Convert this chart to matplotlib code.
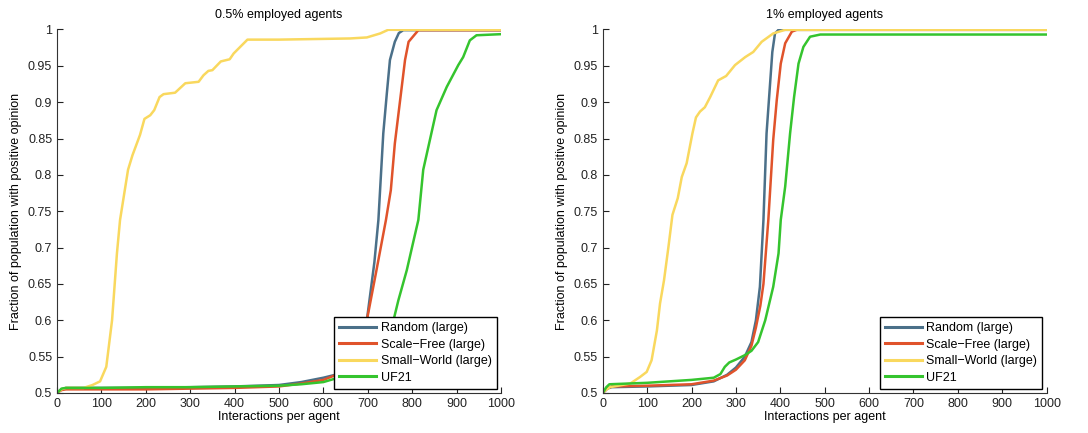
import matplotlib.pyplot as plt
from matplotlib.ticker import FormatStrFormatter

plt.rcParams['font.family'] = ['Liberation Sans', 'DejaVu Sans']

labels = ["Random (large)", "Scale\u2212Free (large)", "Small\u2212World (large)", "UF21"]
colors = ["#4b7089", "#e0532b", "#f9d85e", "#35c42e"]

# 0.5% employed agents
rand05_x = [0, 10, 20, 100, 200, 300, 400, 500, 550, 600, 640, 660, 680, 698, 715, 724, 735, 743, 750, 761, 770, 780, 1000]
rand05_y = [0.5, 0.505, 0.507, 0.507, 0.507, 0.508, 0.509, 0.511, 0.515, 0.521, 0.527, 0.537, 0.56, 0.6, 0.68, 0.738, 0.857, 0.912, 0.958, 0.983, 0.995, 0.999, 0.999]
sf05_x = [0, 10, 20, 100, 200, 300, 400, 500, 550, 600, 650, 680, 698, 720, 741, 752, 761, 773, 784, 792, 814, 1000]
sf05_y = [0.5, 0.504, 0.505, 0.505, 0.505, 0.506, 0.507, 0.509, 0.513, 0.518, 0.53, 0.555, 0.6, 0.67, 0.738, 0.779, 0.843, 0.903, 0.958, 0.983, 0.999, 0.999]
sw05_x = [0, 10, 20, 60, 80, 97, 111, 124, 135, 142, 160, 170, 187, 197, 210, 219, 231, 240, 266, 289, 319, 330, 341, 350, 369, 389, 398, 429,
          500, 600, 660, 698, 728, 746, 1000]
sw05_y = [0.5, 0.505, 0.507, 0.507, 0.511, 0.516, 0.536, 0.6, 0.692, 0.738, 0.807, 0.827, 0.855, 0.877, 0.882, 0.889, 0.907, 0.911, 0.913,
          0.926, 0.928, 0.937, 0.943, 0.944, 0.956, 0.959, 0.967, 0.986, 0.986, 0.987, 0.9876, 0.989, 0.9945, 0.9995, 0.9995]
uf05_x = [0, 10, 20, 100, 200, 300, 400, 500, 550, 600, 650, 700, 730, 758, 769, 788, 800, 814, 825, 840, 855, 878, 904, 915, 930, 945, 1000]
uf05_y = [0.5, 0.506, 0.507, 0.507, 0.508, 0.508, 0.509, 0.51, 0.512, 0.515, 0.524, 0.54, 0.565, 0.6, 0.6275, 0.669, 0.701, 0.738, 0.807,
          0.848, 0.889, 0.921, 0.951, 0.962, 0.985, 0.992, 0.9935]

# 1% employed agents
rand1_x = [0, 10, 20, 100, 200, 250, 280, 300, 320, 335, 345, 354, 362, 369, 377, 382, 388, 396, 1000]
rand1_y = [0.5, 0.506, 0.508, 0.509, 0.511, 0.516, 0.525, 0.535, 0.55, 0.57, 0.6, 0.646, 0.738, 0.857, 0.926, 0.969, 0.9945, 0.9995, 0.9995]
sf1_x = [0, 10, 20, 100, 200, 250, 280, 300, 320, 335, 345, 355, 362, 373, 384, 392, 401, 411, 426, 437, 1000]
sf1_y = [0.5, 0.506, 0.509, 0.51, 0.512, 0.517, 0.524, 0.532, 0.545, 0.565, 0.59, 0.62, 0.65, 0.738, 0.848, 0.903, 0.953, 0.981, 0.997, 0.9995, 0.9995]
sw1_x = [0, 16, 62, 84, 99, 110, 122, 129, 138, 148, 157, 169, 178, 189, 202, 210, 219, 230, 242, 260, 278, 298, 321, 339, 358, 384, 411, 1000]
sw1_y = [0.501, 0.508, 0.513, 0.522, 0.529, 0.545, 0.586, 0.623, 0.655, 0.701, 0.745, 0.768, 0.797, 0.816, 0.857, 0.879, 0.887, 0.893, 0.907,
         0.93, 0.936, 0.951, 0.962, 0.969, 0.983, 0.9945, 0.9995, 0.9995]
uf1_x = [0, 8, 15, 100, 200, 250, 265, 275, 285, 300, 320, 335, 350, 366, 384, 396, 401, 411, 422, 431, 441, 452, 467, 490, 1000]
uf1_y = [0.5, 0.508, 0.512, 0.514, 0.518, 0.521, 0.526, 0.536, 0.542, 0.546, 0.552, 0.558, 0.57, 0.6, 0.646, 0.692, 0.738, 0.784, 0.857, 0.907,
         0.953, 0.976, 0.99, 0.993, 0.993]

panels = [
    ("0.5% employed agents", [(rand05_x, rand05_y), (sf05_x, sf05_y), (sw05_x, sw05_y), (uf05_x, uf05_y)]),
    ("1% employed agents", [(rand1_x, rand1_y), (sf1_x, sf1_y), (sw1_x, sw1_y), (uf1_x, uf1_y)]),
]

fig = plt.figure(figsize=(10.88, 4.33), dpi=100)
lefts = [0.0524, 0.554]

for left, (title, series) in zip(lefts, panels):
    ax = fig.add_axes([left, 0.0924, 0.408, 0.8396])
    for (x, y), lab, c in zip(series, labels, colors):
        ax.plot(x, y, color=c, lw=1.8, label=lab)
    ax.set_xlim(0, 1000)
    ax.set_ylim(0.5, 1)
    ax.set_xticks(range(0, 1001, 100))
    ax.set_yticks([0.5 + 0.05 * i for i in range(11)])
    ax.yaxis.set_major_formatter(FormatStrFormatter('%g'))
    ax.tick_params(direction='in', length=4, labelsize=9, colors='#222222')
    for s in ['top', 'right']:
        ax.spines[s].set_visible(False)
    for s in ['left', 'bottom']:
        ax.spines[s].set_color('#333333')
        ax.spines[s].set_linewidth(0.8)
    ax.set_title(title, fontsize=9, pad=8)
    ax.set_xlabel("Interactions per agent", fontsize=9, labelpad=1)
    ax.set_ylabel("Fraction of population with positive opinion", fontsize=9, labelpad=4)
    leg = ax.legend(loc='lower right', fontsize=9, fancybox=False, framealpha=1,
                    edgecolor='black', handlelength=3.0, borderaxespad=0.35,
                    labelspacing=0.36, handletextpad=0.35, borderpad=0.4)
    leg.get_frame().set_linewidth(1.0)
    for h in leg.get_lines():
        h.set_linewidth(2.2)

fig.savefig("out.png", dpi=100)
